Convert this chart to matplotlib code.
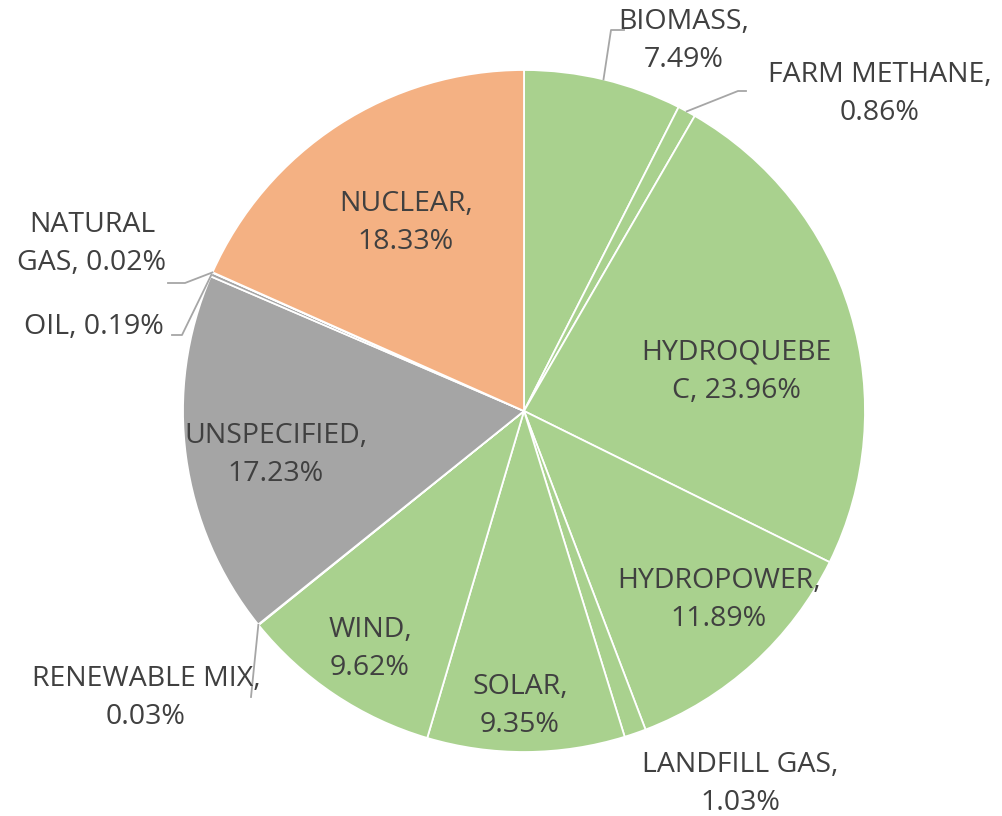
import numpy as np
import matplotlib.pyplot as plt

# Data (clockwise from 12 o'clock)
labels = ['BIOMASS', 'FARM METHANE', 'HYDROQUEBEC', 'HYDROPOWER', 'LANDFILL GAS',
          'SOLAR', 'WIND', 'RENEWABLE MIX', 'UNSPECIFIED', 'OIL', 'NATURAL GAS', 'NUCLEAR']
values = [7.49, 0.86, 23.96, 11.89, 1.03, 9.35, 9.62, 0.03, 17.23, 0.19, 0.02, 18.33]
label_text = ['BIOMASS,\n7.49%', 'FARM METHANE,\n0.86%', 'HYDROQUEBE\nC, 23.96%',
              'HYDROPOWER,\n11.89%', 'LANDFILL GAS,\n1.03%', 'SOLAR,\n9.35%',
              'WIND,\n9.62%', 'RENEWABLE MIX,\n0.03%', 'UNSPECIFIED,\n17.23%',
              'OIL, 0.19%', 'NATURAL\nGAS, 0.02%', 'NUCLEAR,\n18.33%']

green, orange, gray = '#A9D18E', '#F4B183', '#A5A5A5'
colors = [green] * 8 + [gray] * 3 + [orange]

# layout (pixel coordinates, y down)
cx, cy, r = 524, 411, 341
label_pos = [(684, 41), (880, 94), (736, 372), (719, 600), (740, 784), (520, 706),
             (370, 649), (146, 698), (276, 455), (94, 327), (92, 244), (406, 223)]
# leader lines: elbow points for outside labels
leaders = {0: [(611, 30), (624, 30)],
           1: [(738, 91), (746, 91)],
           7: [(251, 697)],
           9: [(182, 335), (172, 335)],
           10: [(185, 283), (168, 283)]}

plt.rcParams['font.family'] = ['Open Sans', 'DejaVu Sans']
fig = plt.figure(figsize=(10.02, 8.16), dpi=100)
ax = fig.add_axes([0, 0, 1, 1])

ax.pie(values, colors=colors, startangle=-90, counterclock=True,
       center=(cx, cy), radius=r,
       wedgeprops=dict(edgecolor='white', linewidth=1.3))
ax.set_xlim(0, 1002)
ax.set_ylim(816, 0)
ax.set_aspect('auto')
ax.axis('off')

cum = np.cumsum([0] + values[:-1])
for i, txt in enumerate(label_text):
    lx, ly = label_pos[i]
    ax.text(lx, ly, txt, ha='center', va='center', ma='center',
            fontsize=20.5, color='#404040', linespacing=1.48)
    if i in leaders:
        theta = np.deg2rad(-90 + 360 * (cum[i] + values[i] / 2) / 100)
        ex, ey = cx + r * np.cos(theta), cy + r * np.sin(theta)
        pts = [(ex, ey)] + leaders[i]
        ax.plot([p[0] for p in pts], [p[1] for p in pts], color='#A6A6A6', lw=1.3)

fig.savefig('out.png', dpi=100)
